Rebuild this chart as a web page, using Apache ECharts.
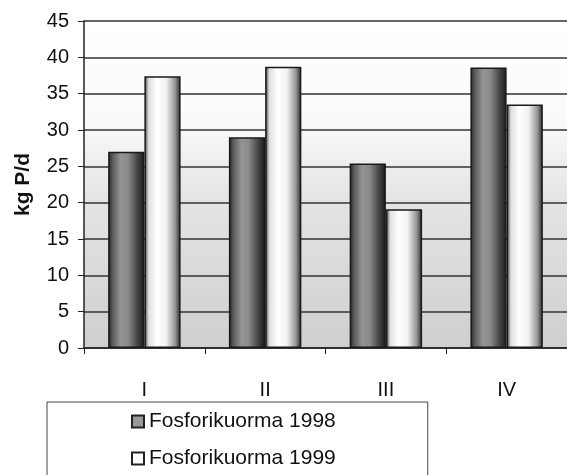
<!DOCTYPE html>
<html>
<head>
<meta charset="utf-8">
<script src="https://cdn.jsdelivr.net/npm/echarts@6/dist/echarts.min.js"></script>
<style>
html,body{margin:0;padding:0;background:#fff;}
#chart{width:567px;height:475px;}
</style>
</head>
<body>
<div id="chart"></div>
<script>
const categories = ['I', 'II', 'III', 'IV'];
const load1998 = [27.0, 29.0, 25.4, 38.6];
const load1999 = [37.4, 38.7, 19.1, 33.5];
const seriesNames = ['Fosforikuorma 1998', 'Fosforikuorma 1999'];
const yTicks = { min: 0, max: 45, step: 5 };

const font = 'Liberation Sans, Arial, sans-serif';

function grad(stops) {
  return new echarts.graphic.LinearGradient(0, 0, 1, 0, stops.map(s => ({offset: s[0], color: s[1]})));
}
const dark = grad([[0, '#222'], [0.12, '#5a5a5a'], [0.35, '#959595'], [0.55, '#8a8a8a'], [0.8, '#474747'], [1, '#1a1a1a']]);
const light = grad([[0, '#3a3a3a'], [0.12, '#e0e0e0'], [0.35, '#ffffff'], [0.6, '#f2f2f2'], [0.85, '#959595'], [1, '#262626']]);

const chart = echarts.init(document.getElementById('chart'), null, {renderer: 'canvas'});
chart.setOption({
  animation: false,
  backgroundColor: '#fff',
  grid: {
    left: 84, top: 21, width: 488, height: 327, containLabel: false,
    show: true, borderWidth: 0,
    backgroundColor: new echarts.graphic.LinearGradient(0, 0, 0, 1, [
      {offset: 0, color: '#ffffff'}, {offset: 0.3, color: '#fafafa'},
      {offset: 0.55, color: '#e4e4e4'}, {offset: 1, color: '#cfcfcf'}
    ])
  },
  legend: {
    orient: 'vertical',
    left: 47, top: 402,
    height: 150,
    padding: [9, 92, 40, 84],
    itemGap: 16,
    itemWidth: 12, itemHeight: 12,
    icon: 'rect',
    borderColor: '#444', borderWidth: 1,
    textStyle: {fontFamily: font, fontSize: 21, color: '#111'},
    data: [
      {name: seriesNames[0], itemStyle: {color: '#999', borderColor: '#222', borderWidth: 2}},
      {name: seriesNames[1], itemStyle: {color: '#fff', borderColor: '#222', borderWidth: 2}}
    ]
  },
  xAxis: {
    type: 'category',
    data: categories,
    axisLine: {show: true, lineStyle: {color: '#222', width: 1.5}},
    axisTick: {show: true, length: 6, lineStyle: {color: '#222', width: 1}},
    axisLabel: {fontFamily: font, fontSize: 20, color: '#111', margin: 32},
    splitLine: {show: false}
  },
  yAxis: {
    type: 'value',
    min: yTicks.min, max: yTicks.max, interval: yTicks.step,
    name: 'kg P/d',
    nameLocation: 'middle',
    nameRotate: 90,
    nameGap: 50,
    nameTextStyle: {fontFamily: font, fontSize: 21, fontWeight: 'bold', color: '#111'},
    axisLine: {show: true, lineStyle: {color: '#222', width: 1.5}},
    axisTick: {show: true, length: 6, lineStyle: {color: '#222', width: 1}},
    axisLabel: {fontFamily: font, fontSize: 20, color: '#111', margin: 15},
    splitLine: {show: true, lineStyle: {color: '#333', width: 1.5}}
  },
  series: [
    {
      name: seriesNames[0], type: 'bar', data: load1998,
      barGap: '0%', barCategoryGap: '40%',
      itemStyle: {color: dark, borderColor: '#1a1a1a', borderWidth: 1.5}
    },
    {
      name: seriesNames[1], type: 'bar', data: load1999,
      itemStyle: {color: light, borderColor: '#1a1a1a', borderWidth: 1.5}
    }
  ]
});
</script>
</body>
</html>
